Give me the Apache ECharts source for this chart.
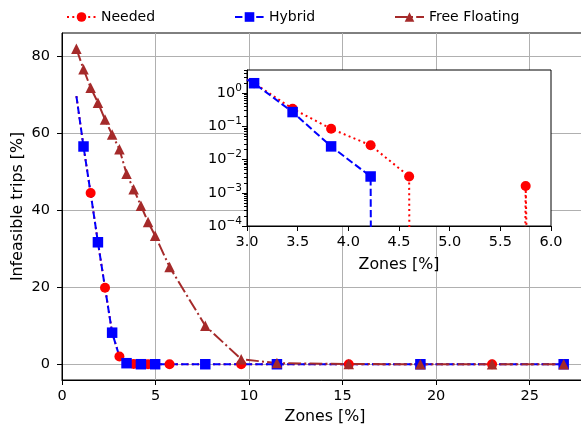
<!DOCTYPE html>
<html><head><meta charset="utf-8">
<script src="https://cdn.jsdelivr.net/npm/echarts@6/dist/echarts.min.js"></script>
<style>html,body{margin:0;padding:0;background:#fff}#c{width:581px;height:432px}</style>
</head><body><div id="c"></div>
<script>
// ---- data ----
const zones = [0.77, 1.15, 1.53, 1.92, 2.30, 2.68, 3.07, 3.45, 3.83, 4.22, 4.60, 4.98, 5.75, 7.66, 9.58, 11.49, 15.33, 19.16, 22.99, 26.82];
const needed = [69.7, 56.6, 44.5, 31.7, 19.9, 8.2, 2.0, 0.34, 0.085, 0.027, 0.0031, 0, 0.0016, 0, 0, 0, 0, 0, 0, 0];
const hybrid = [69.7, 56.6, 44.5, 31.7, 19.9, 8.2, 2.0, 0.27, 0.025, 0.0031, 0, 0, 0, 0, 0, 0, 0, 0, 0, 0];
const freeFloating = [82.0, 76.7, 71.9, 68.0, 63.6, 59.7, 55.9, 49.5, 45.5, 41.2, 37.0, 33.4, 25.3, 10.0, 1.3, 0.3, 0.05, 0, 0, 0];

const mainXTicks = [0, 5, 10, 15, 20, 25];
const mainYTicks = [0, 20, 40, 60, 80];
const insetXTicks = [3.0, 3.5, 4.0, 4.5, 5.0, 5.5, 6.0];
const insetYTicks = [1e-4, 1e-3, 1e-2, 1e-1, 1];
const insetMinorTicks = [];
[1e-4, 1e-3, 1e-2, 1e-1, 1].forEach(d => { for (let m = 2; m <= 9; m++) insetMinorTicks.push(+(m * d).toPrecision(3)); });

const seriesNames = ['Needed', 'Hybrid', 'Free Floating'];

// ---- styles ----
const FONT = 'DejaVu Sans';
const RED = '#ff0000', BLUE = '#0000ff', BROWN = '#a52a2a';
const styles = {
  'Needed': { color: RED, symbol: 'circle', size: 10, dash: [2, 3.3] },
  'Hybrid': { color: BLUE, symbol: 'rect', size: 10.5, dash: [7.4, 3.2] },
  'Free Floating': { color: BROWN, symbol: 'triangle', size: 10.5, dash: [12.8, 3.2, 2, 3.2] }
};
const expStr = v => String(Math.round(Math.log10(v))).replace('-', '\u2212');
const supFmt = v => '{b|10}{e|' + expStr(v) + '}';
// matplotlib's log scale clips non-positive values far below the axis
const logClip = v => (v > 0 ? v : 1e-300);

const tickLabel = { color: '#000', fontSize: 14.5, fontFamily: FONT };
const titleStyle = { color: '#000', fontSize: 15.8, fontFamily: FONT };
const tickStyle = { show: true, inside: false, length: 5, lineStyle: { color: '#000', width: 1 } };

function mainSeries(name, values, markFn) {
  const s = styles[name];
  return {
    name, type: 'line', xAxisIndex: 0, yAxisIndex: 0, z: 2,
    symbol: s.symbol, symbolSize: s.size,
    data: zones.map((x, i) => markFn(i) ? [x, values[i]] : { value: [x, values[i]], symbol: 'none' }),
    lineStyle: { color: s.color, width: 2, type: s.dash },
    itemStyle: { color: s.color },
    showAllSymbol: true, animation: false
  };
}
function insetSeries(name, values) {
  const s = styles[name];
  return {
    name, type: 'line', xAxisIndex: 1, yAxisIndex: 1, z: 8,
    symbol: s.symbol, symbolSize: s.size, clip: true, showAllSymbol: true,
    data: zones.map((x, i) => [x, logClip(values[i])]),
    lineStyle: { color: s.color, width: 2, type: s.dash },
    itemStyle: { color: s.color }, animation: false
  };
}

const legendCommon = { top: 5, itemWidth: 29, itemHeight: 12, textStyle: { color: '#000', fontSize: 14, fontFamily: FONT } };

const option = {
  backgroundColor: '#fff',
  animation: false,
  textStyle: { fontFamily: FONT },
  legend: [
    Object.assign({ data: [seriesNames[0]], left: 61 }, legendCommon),
    Object.assign({ data: [seriesNames[1]], left: 229 }, legendCommon),
    Object.assign({ data: [seriesNames[2]], left: 389 }, legendCommon)
  ],
  grid: [
    { left: 62, top: 33, right: -7, bottom: 52, outerBoundsMode: 'none', containLabel: false, show: true, borderColor: '#000', borderWidth: 1, backgroundColor: 'transparent', z: 0 },
    { left: 247, top: 70, right: 30, bottom: 206, outerBoundsMode: 'none', containLabel: false, show: true, borderColor: '#000', borderWidth: 1, backgroundColor: '#fff', z: 5 }
  ],
  xAxis: [
    { type: 'value', gridIndex: 0, min: 0, max: 28.12,
      name: 'Zones [%]', nameLocation: 'middle', nameGap: 29, nameMoveOverlap: false, nameTextStyle: titleStyle,
      axisLine: { show: true, onZero: false, lineStyle: { color: '#000', width: 1 } },
      axisTick: Object.assign({ customValues: mainXTicks }, tickStyle),
      axisLabel: Object.assign({ customValues: mainXTicks, margin: 9 }, tickLabel),
      splitLine: { show: true, lineStyle: { color: '#b0b0b0', width: 1 } } },
    { type: 'value', gridIndex: 1, min: 3, max: 6, interval: 0.5, z: 6,
      name: 'Zones [%]', nameLocation: 'middle', nameGap: 31, nameMoveOverlap: false, nameTextStyle: titleStyle,
      axisLine: { show: true, onZero: false, lineStyle: { color: '#000', width: 1 } },
      axisTick: tickStyle,
      axisLabel: Object.assign({ margin: 9, formatter: v => v.toFixed(1) }, tickLabel),
      splitLine: { show: false } }
  ],
  yAxis: [
    { type: 'value', gridIndex: 0, min: -4.1, max: 86.1,
      name: 'Infeasible trips [%]', nameLocation: 'middle', nameGap: 36, nameMoveOverlap: false, nameTextStyle: titleStyle,
      axisLine: { show: true, onZero: false, lineStyle: { color: '#000', width: 1 } },
      axisTick: Object.assign({ customValues: mainYTicks }, tickStyle),
      axisLabel: Object.assign({ customValues: mainYTicks, margin: 12 }, tickLabel),
      splitLine: { show: true, lineStyle: { color: '#b0b0b0', width: 1 } } },
    { type: 'log', logBase: 10, gridIndex: 1, min: 1e-4, max: 5, z: 6,
      axisLine: { show: true, onZero: false, lineStyle: { color: '#000', width: 1 } },
      axisTick: Object.assign({ customValues: insetYTicks }, tickStyle),
      axisLabel: Object.assign({ customValues: insetYTicks, margin: 5, formatter: supFmt, padding: [0, 0, 3, 0],
        rich: {
          b: { fontSize: 14.5, fontFamily: FONT, color: '#000', lineHeight: 18, verticalAlign: 'bottom' },
          e: { fontSize: 10.5, fontFamily: FONT, color: '#000', lineHeight: 18, verticalAlign: 'top' }
        } }, tickLabel),
      splitLine: { show: false } },
    { type: 'log', logBase: 10, gridIndex: 1, min: 1e-4, max: 5, z: 6, position: 'left',
      axisLine: { show: false },
      axisTick: { show: true, inside: false, length: 3, customValues: insetMinorTicks, lineStyle: { color: '#000', width: 1 } },
      axisLabel: { show: false },
      splitLine: { show: false } }
  ],
  series: [
    mainSeries('Needed', needed, i => i >= 2 && i % 2 === 0),
    mainSeries('Hybrid', hybrid, i => i % 2 === 1),
    mainSeries('Free Floating', freeFloating, i => true),
    insetSeries('Needed', needed),
    insetSeries('Hybrid', hybrid)
  ]
};

const chart = echarts.init(document.getElementById('c'), null, { renderer: 'canvas' });
chart.setOption(option);
</script>
</body></html>
